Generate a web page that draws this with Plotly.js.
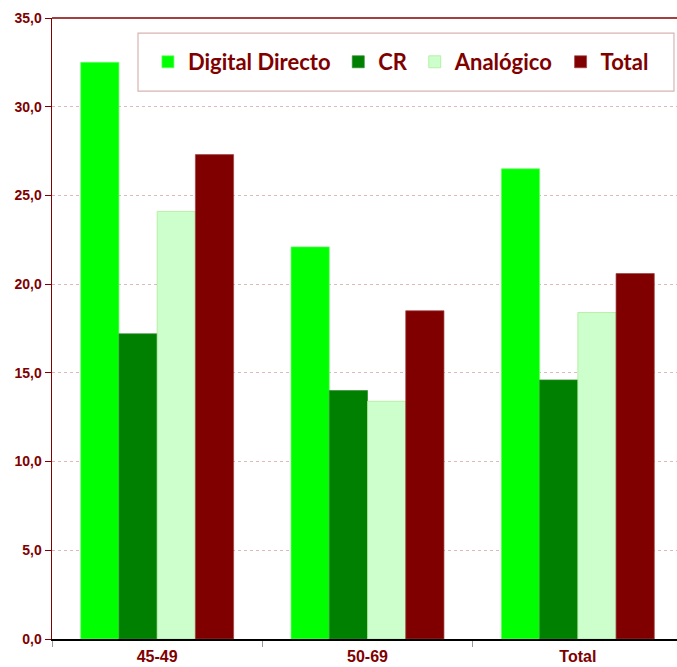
<!DOCTYPE html>
<html><head><meta charset="utf-8">
<script src="https://cdn.plot.ly/plotly-3.0.1.min.js"></script>
<style>html,body{margin:0;padding:0;overflow:hidden;background:#fff}</style>
</head><body><div id="chart"></div>
<script>
const categories = ["45-49", "50-69", "Total"];
const digitalDirecto = [32.5, 22.1, 26.5];
const cr = [17.2, 14.0, 14.6];
const analogico = [24.1, 13.4, 18.4];
const total = [27.3, 18.5, 20.6];
const seriesNames = ["Digital Directo", "CR", "Analógico", "Total"];

const red = "#800000";
const pad = "\u2009";
const traces = [
  {name: seriesNames[0] + pad, y: digitalDirecto, color: "#00ff00", line: "#66ff66"},
  {name: seriesNames[1] + pad, y: cr, color: "#008000", line: "#2e8b2e"},
  {name: seriesNames[2] + pad, y: analogico, color: "#ccffcc", line: "#a8e890"},
  {name: seriesNames[3], y: total, color: "#800000", line: "#a04040"}
].map(s => ({type: "bar", name: s.name, x: categories, y: s.y,
  marker: {color: s.color, line: {color: s.line, width: 0.7}}}));

const layout = {
  width: 690, height: 667,
  margin: {l: 52, r: 7, t: 18, b: 28},
  paper_bgcolor: "#fff", plot_bgcolor: "#fff",
  barmode: "group", bargap: 0.273, bargroupgap: 0,
  separators: ",.",
  showlegend: true,
  legend: {orientation: "h", x: 0.152, y: 0.9292, xanchor: "left", yanchor: "middle",
    borderwidth: 0, bgcolor: "rgba(0,0,0,0)",
    font: {family: "Lato, 'Open Sans', sans-serif", size: 22, color: red, weight: "bold"},
    traceorder: "normal", itemwidth: 30},
  xaxis: {type: "category", showline: true, linecolor: "#000", linewidth: 2,
    ticks: "outside", tickson: "boundaries", ticklen: 6, tickcolor: "#999",
    ticklabelstandoff: 2,
    tickfont: {family: "'Liberation Sans', Arial, sans-serif", size: 16, color: red, weight: "bold"},
    showgrid: false, fixedrange: true},
  yaxis: {range: [0, 35], dtick: 5, tickformat: ".1f", showline: true, linecolor: red, linewidth: 1.5,
    ticks: "outside", ticklen: 6, tickcolor: red,
    showgrid: true, gridcolor: "rgba(170,80,80,0.4)", griddash: "dot", gridwidth: 1,
    zeroline: false,
    tickfont: {family: "'Liberation Sans', Arial, sans-serif", size: 14, color: red, weight: "bold"}},
  shapes: [
    {type: "line", xref: "paper", yref: "paper", x0: 0, x1: 1, y0: 1, y1: 1,
      line: {color: red, width: 1.5}},
    {type: "rect", xref: "paper", yref: "paper", x0: 0.1363, x1: 0.9857, y0: 0.8824, y1: 0.9758,
      fillcolor: "#fff", line: {color: "#d8b4b4", width: 1.2}, layer: "above"}
  ]
};
Plotly.newPlot("chart", traces, layout, {displayModeBar: false, staticPlot: true});
</script></body></html>
